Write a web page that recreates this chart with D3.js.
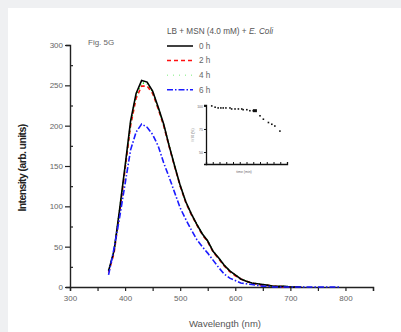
<!DOCTYPE html>
<html>
<head>
<meta charset="utf-8">
<script src="https://cdn.jsdelivr.net/npm/d3@7"></script>
<style>
  html, body { margin: 0; padding: 0; background: #eff0f2; }
  #chart { position: absolute; left: 8px; top: 8px; width: 393px; height: 324px; background: #fff; }
  svg { position: absolute; left: 0; top: 0; }
  text { font-family: 'Liberation Sans', Arial, sans-serif; }
</style>
</head>
<body>
<div id="chart"></div>
<script>
// Data
const wavelengths = [370, 380, 390, 400, 410, 420, 430, 440, 450, 460, 470, 480, 490, 500, 510, 520, 530, 540, 550, 560, 570, 580, 590, 600, 610, 620, 630, 640, 650, 660, 670, 680, 690, 700, 710, 720, 730, 740, 750, 760, 770, 780, 790]
const h0 = [20, 45, 96, 150, 206, 240, 256, 254, 243, 223, 202, 175, 150, 126, 106, 91, 78, 66, 57, 44, 36, 27, 20, 15, 10, 7, 5, 4, 3, 2, 1, 1, 1, 0, 0, 0]
const h2 = [18, 42, 92, 146, 200, 234, 249, 249, 240, 221, 200, 174, 149, 125, 105, 90, 77, 65, 56, 43, 35, 26, 19, 14, 10, 7, 5, 3, 2, 2, 1, 1, 0, 0, 0, 0]
const h4 = [21, 44, 95, 148, 203, 238, 253, 252, 242, 222, 201, 175, 150, 126, 106, 91, 78, 66, 57, 44, 36, 27, 20, 15, 10, 7, 5, 4, 3, 2, 1, 1, 1, 0, 0, 0]
const h6 = [15, 48, 86, 128, 170, 192, 202, 198, 189, 175, 154, 136, 117, 98, 84, 71, 59, 50, 42, 33, 24, 16, 11, 8, 5, 4, 3, 2, 1, 1, 0, 0, 0, 0, 0, 0, 0, 0, 0, 0, 0, 0, 0]
const seriesLabels = ['0 h', '2 h', '4 h', '6 h']
const xTicks = [300, 400, 500, 600, 700, 800]
const yTicks = [0, 50, 100, 150, 200, 250, 300]

// inset: relative intensity over time
const insetTime = [17, 27, 36, 44, 51, 59, 71, 76, 86, 96, 106, 110, 121, 130, 140, 145, 160, 170, 185, 195, 204, 219]
const insetValue = [100, 98.6, 97.8, 97.8, 97.8, 97.8, 97.8, 96.7, 96.7, 96.7, 96.7, 95.9, 95.9, 94.8, 94.8, 95.6, 89.3, 85.6, 82, 80.1, 78.2, 72.7]
const insetYTicks = [50, 75, 100]

const styles = [
  { color: '#000', dash: null },
  { color: '#ff1010', dash: '4,3' },
  { color: '#00dd00', dash: '1,3' },
  { color: '#1a1aff', dash: '6,2,1.5,2' }
]

const width = 393
const height = 324
// chart origin is shifted by the 8px grey border
const off = 8
const plot = { left: 70 - off, right: 373 - off, top: 45 - off, bottom: 287 - off }

const svg = d3.select('#chart').append('svg')
  .attr('width', width)
  .attr('height', height)

const xScale = d3.scaleLinear().domain([300, 850]).range([plot.left, plot.right])
const yScale = d3.scaleLinear().domain([0, 300]).range([plot.bottom, plot.top])

// axes
const xAxis = d3.axisBottom(xScale)
  .tickValues(d3.range(300, 851, 50))
  .tickSize(4)
  .tickFormat(d => xTicks.includes(d) ? d : '')
const gx = svg.append('g')
  .attr('transform', `translate(0, ${plot.bottom})`)
  .call(xAxis)
gx.select('.domain').attr('stroke', '#222').attr('stroke-width', 1.4)
gx.selectAll('line').attr('stroke', '#222').attr('stroke-width', 1.2)
gx.selectAll('text').attr('fill', '#666').attr('font-size', 8).attr('dy', '0.9em')

const yAxis = d3.axisLeft(yScale)
  .tickValues(d3.range(0, 301, 25))
  .tickSize(4)
  .tickFormat(d => yTicks.includes(d) ? d : '')
const gy = svg.append('g')
  .attr('transform', `translate(${plot.left}, 0)`)
  .call(yAxis)
gy.select('.domain').attr('stroke', '#222').attr('stroke-width', 1.4)
gy.selectAll('line').attr('stroke', '#222').attr('stroke-width', 1.2)
  .attr('x1', d => yTicks.includes(d) ? 0 : 3)
  .attr('x2', d => yTicks.includes(d) ? -5 : 0)
gy.selectAll('text').attr('fill', '#666').attr('font-size', 8).attr('x', -7)

// curves, black drawn over red and green as in the original
const allSeries = [h0, h2, h4, h6]
const drawOrder = [1, 2, 0, 3]
const line = d3.line()
  .x((d, i) => xScale(wavelengths[i]))
  .y(d => yScale(d))

svg.append('g').selectAll('path')
  .data(drawOrder)
  .enter().append('path')
    .attr('d', k => line(allSeries[k]))
    .attr('fill', 'none')
    .attr('stroke', k => styles[k].color)
    .attr('stroke-width', 1.6)
    .attr('stroke-dasharray', k => styles[k].dash)

// axis titles
svg.append('text')
  .attr('transform', `translate(${26 - off}, ${168 - off}) rotate(-90)`)
  .attr('text-anchor', 'middle')
  .attr('font-size', 10.5)
  .attr('font-weight', 'bold')
  .attr('letter-spacing', -0.6)
  .attr('fill', '#222')
  .text('Intensity (arb. units)')

svg.append('text')
  .attr('x', 225 - off)
  .attr('y', 327 - off)
  .attr('text-anchor', 'middle')
  .attr('font-size', 9.5)
  .attr('fill', '#555')
  .text('Wavelength (nm)')

svg.append('text')
  .attr('x', 88 - off)
  .attr('y', 45 - off)
  .attr('font-size', 8)
  .attr('fill', '#666')
  .text('Fig. 5G')

// legend
const title = svg.append('text')
  .attr('x', 167 - off)
  .attr('y', 34 - off)
  .attr('font-size', 8.2)
  .attr('fill', '#555')
title.append('tspan').text('LB + MSN (4.0 mM) + ')
title.append('tspan').attr('font-style', 'italic').text('E. Coli')

const legend = svg.append('g').selectAll('g')
  .data(seriesLabels)
  .enter().append('g')
    .attr('transform', (d, i) => `translate(${167 - off}, ${46 - off + i * 14.6})`)
legend.append('line')
  .attr('x1', 0)
  .attr('x2', 26)
  .attr('stroke', (d, i) => styles[i].color)
  .attr('stroke-width', 1.5)
  .attr('stroke-opacity', (d, i) => i === 2 ? 0.35 : 1)
  .attr('stroke-dasharray', (d, i) => i === 2 ? '1,5' : styles[i].dash)
legend.append('text')
  .attr('x', 32)
  .attr('dy', '0.35em')
  .attr('font-size', 8.2)
  .attr('fill', '#666')
  .text(d => d)

// inset
const inset = { left: 206 - off, right: 287 - off, top: 105 - off, bottom: 164 - off }
const ixScale = d3.scaleLinear().domain([0, 240]).range([inset.left, inset.right])
const iyScale = d3.scaleLinear().domain([37, 101]).range([inset.bottom, inset.top])

const ix = svg.append('g')
  .attr('transform', `translate(0, ${inset.bottom})`)
  .call(d3.axisBottom(ixScale).tickValues(d3.range(0, 241, 20)).tickSize(-2).tickFormat(''))
ix.select('.domain').attr('stroke', '#111').attr('stroke-width', 1.3)
ix.selectAll('line').attr('stroke', '#111').attr('stroke-width', 1)

const iy = svg.append('g')
  .attr('transform', `translate(${inset.left}, 0)`)
  .call(d3.axisLeft(iyScale).tickValues(insetYTicks).tickSize(2))
iy.select('.domain').attr('stroke', '#111').attr('stroke-width', 1.3)
iy.selectAll('line').attr('stroke', '#111')
iy.selectAll('text').attr('font-size', 3.5).attr('fill', '#666').attr('x', -3)

svg.append('g').selectAll('rect')
  .data(insetValue)
  .enter().append('rect')
    .attr('x', (d, i) => ixScale(insetTime[i]) - (i === 15 ? 2 : 0.8))
    .attr('y', d => iyScale(d) - 0.8)
    .attr('width', (d, i) => i === 15 ? 4 : 1.6)
    .attr('height', (d, i) => i === 15 ? 3 : 1.6)
    .attr('fill', '#111')

svg.append('text')
  .attr('x', 244 - off)
  .attr('y', 173 - off)
  .attr('text-anchor', 'middle')
  .attr('font-size', 3.5)
  .attr('fill', '#666')
  .text('time (min)')

svg.append('text')
  .attr('transform', `translate(${194 - off}, ${135 - off}) rotate(-90)`)
  .attr('text-anchor', 'middle')
  .attr('font-size', 3.5)
  .attr('fill', '#666')
  .text('I / I0 (%)')
</script>
</body>
</html>
